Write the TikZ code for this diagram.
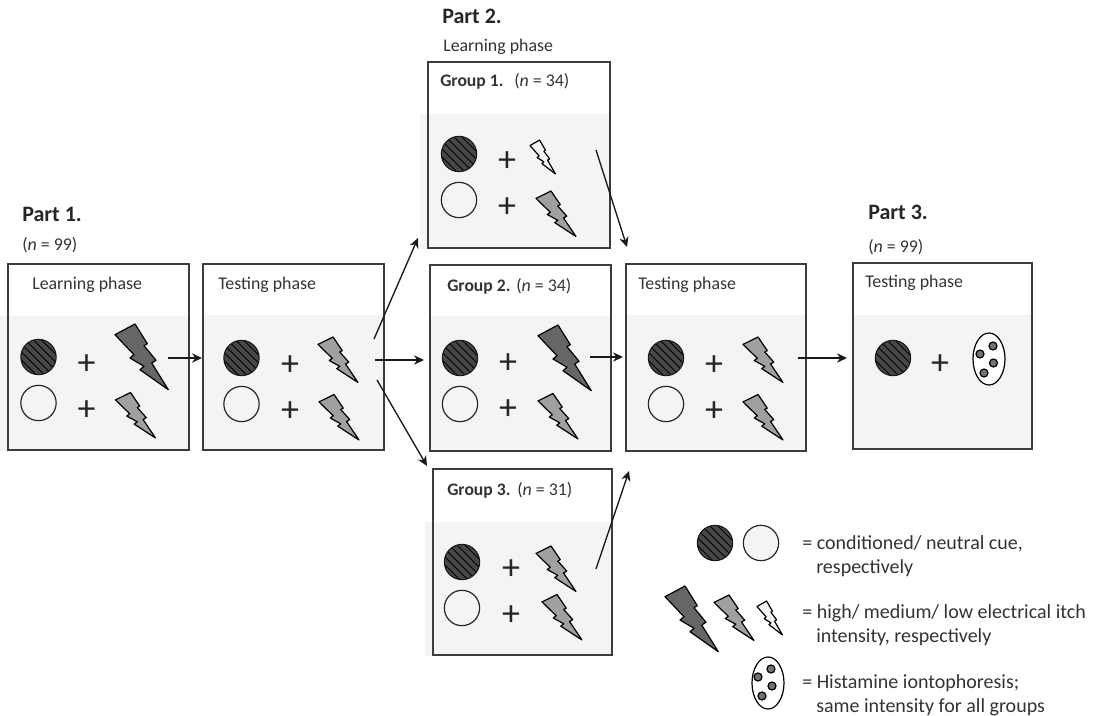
\documentclass[tikz,border=0pt]{standalone}
\usepackage{fontspec}
\setmainfont{Carlito}
\usetikzlibrary{arrows.meta,shapes.geometric}
\definecolor{band}{HTML}{F4F4F4}
\definecolor{boxline}{HTML}{3C3C3C}
\definecolor{txt}{HTML}{333333}
\definecolor{hi}{HTML}{666666}
\definecolor{med}{HTML}{A0A0A0}
\definecolor{lo}{HTML}{F2F2F2}
\tikzset{
  x=0.75pt,y=-0.75pt,
  panel/.style={draw=boxline,line width=1.3pt,inner sep=0,outer sep=0},
  darkcue/.style={circle,draw=black!90,line width=0.8pt,fill=black!72,minimum size=26.5pt,inner sep=0,outer sep=0,
    path picture={\foreach \s in {-60,-52,...,60}{\draw[black,line width=0.7pt] ([shift={(\s-40,-40)}]path picture bounding box.center) -- ([shift={(\s+40,40)}]path picture bounding box.center);}}},
  lightcue/.style={circle,draw=black!85,line width=0.9pt,fill=band,minimum size=26.5pt,inner sep=0,outer sep=0},
  plus/.style={font=\fontsize{27}{27}\selectfont,text=black!85,inner sep=0,yshift=-1pt},
  ph/.style={anchor=base west,inner sep=0,text=txt,yshift=-1pt,font=\fontsize{13.4}{15}\selectfont},
  small/.style={anchor=base west,inner sep=0,text=txt,yshift=-1pt,font=\fontsize{13.4}{15}\selectfont},
  part/.style={anchor=base west,inner sep=0,text=black!85,yshift=-1.8pt,font=\fontsize{16.5}{18}\selectfont\bfseries},
  grp/.style={anchor=base west,inner sep=0,text=txt,yshift=-1pt,font=\fontsize{13.2}{15}\selectfont\bfseries},
  leg/.style={anchor=base west,inner sep=0,text=txt,yshift=-1pt,font=\fontsize{15}{17}\selectfont},
  conn/.style={black!90,line width=1pt,-{Stealth[length=7.5pt,width=7pt]}},
  boltline/.style={draw=black,line width=0.9pt,line join=round},
  histo/.style={ellipse,draw=black,line width=0.9pt,fill=white,minimum width=24pt,minimum height=39pt,inner sep=0},
  dot/.style={circle,draw=black,line width=0.9pt,fill=black!55,minimum size=6pt,inner sep=0}
}
% band, then box: name, x1, y1, x2, y2, band top, band overhang left
\newcommand{\panelbox}[7]{%
  \fill[band] (#2-#7,#6) rectangle (#4,#5+1);
  \pgfmathsetmacro{\pw}{(#4-#2)*0.75}\pgfmathsetmacro{\phh}{(#5-#3)*0.75}%
  \node[panel,minimum width=\pw pt,minimum height=\phh pt] (#1) at ({(#2+#4)/2},{(#3+#5)/2}) {};}
\newcommand{\boltshape}[5]{%
  \draw[boltline,fill=#5,shift={(#1,#2)},xscale=#3/53.3,yscale=#4/65.7]
   (0,10.7)--(20,0)--(32.3,19.7)--(29,21.7)--(41,36.3)--(36.7,39)--(53.3,65.7)--(25,45.7)--(29,42.3)--(15,34)--(19,30.7)--cycle;}
\newcommand{\bigbolt}[2]{\boltshape{#1}{#2}{53.3}{65.7}{hi}}
\newcommand{\medbolt}[2]{\boltshape{#1}{#2}{40}{45.5}{med}}
\newcommand{\lowbolt}[2]{\boltshape{#1}{#2}{25.5}{34}{lo}}
\begin{document}
\begin{tikzpicture}
\useasboundingbox (0,0) rectangle (1100,716);
% panels
\panelbox{pa}{8}{264}{189}{450}{316}{8}
\panelbox{pb}{203}{264}{384}{450}{315}{0}
\panelbox{ga}{428}{62}{610}{248}{114}{8}
\panelbox{gb}{430}{265}{611}{451}{316}{0}
\panelbox{gc}{433}{469}{612}{655}{522}{8}
\panelbox{pc}{626}{264}{806}{451}{315}{0}
\panelbox{pd}{853}{263}{1032}{449}{315}{0}
% titles
\node[part] (t1) at (22,219) {Part 1.};
\node[small] (n1) at (22,249) {(\textit{n} = 99)};
\node[part] (t2) at (442,21) {Part 2.};
\node[small] (l2) at (443,50) {Learning phase};
\node[part] (t3) at (868,217) {Part 3.};
\node[small] (n3) at (868,251) {(\textit{n} = 99)};
\node[ph] (la) at (32,288) {Learning phase};
\node[ph] (lb) at (218,288) {Testing phase};
\node[ph] (lc) at (638,288) {Testing phase};
\node[ph] (ld) at (865,286) {Testing phase};
\node[grp] (g1) at (440,85) {Group 1.};
\node[small] (g1n) at (514,85) {(\textit{n} = 34)};
\node[grp] (g2) at (447,290) {Group 2.};
\node[small] (g2n) at (516,290) {(\textit{n} = 34)};
\node[grp] (g3) at (447,494) {Group 3.};
\node[small] (g3n) at (517,494) {(\textit{n} = 31)};
% part 1 learning
\node[darkcue] (a1) at (38.5,357) {}; \node[lightcue] (a2) at (38.5,403) {};
\node[plus] (ap1) at (86.5,363) {+}; \node[plus] (ap2) at (86.5,409) {+};
\bigbolt{115}{324}\medbolt{115.5}{392.5}
% part 1 testing
\node[darkcue] (b1) at (241.5,358) {}; \node[lightcue] (b2) at (241.5,404) {};
\node[plus] (bp1) at (290,364) {+}; \node[plus] (bp2) at (290,410) {+};
\medbolt{318}{337}\medbolt{319}{394.5}
% group 1
\node[darkcue] (c1) at (459,154) {}; \node[lightcue] (c2) at (459,200) {};
\node[plus] (cp1) at (507,160) {+}; \node[plus] (cp2) at (507,206) {+};
\lowbolt{530}{140}\medbolt{536}{191}
% group 2
\node[darkcue] (d1) at (460,358) {}; \node[lightcue] (d2) at (460,404) {};
\node[plus] (dp1) at (508,362.5) {+}; \node[plus] (dp2) at (508,408.5) {+};
\bigbolt{538}{325}\medbolt{538}{393.5}
% group 3
\node[darkcue] (e1) at (462,562) {}; \node[lightcue] (e2) at (462,608) {};
\node[plus] (ep1) at (511,568) {+}; \node[plus] (ep2) at (511,614) {+};
\medbolt{536}{546}\medbolt{542}{594.5}
% part 2 testing
\node[darkcue] (f1) at (666,358) {}; \node[lightcue] (f2) at (666,404) {};
\node[plus] (fp1) at (714,364) {+}; \node[plus] (fp2) at (714,410) {+};
\medbolt{743}{337}\medbolt{743}{394.5}
% part 3
\node[darkcue] (h1) at (893,358) {};
\node[plus] (hp1) at (940,363) {+};
\node[histo] (hh) at (989,359) {};
\node[dot] (hd1) at (980,354) {}; \node[dot] (hd2) at (993,346) {}; \node[dot] (hd3) at (993.5,363) {}; \node[dot] (hd4) at (984,373) {};
% connectors
\coordinate (s1) at (168,358); \coordinate (e1x) at (202,358);
\coordinate (s2) at (374,339); \coordinate (e2x) at (418,238);
\coordinate (s3) at (375,360); \coordinate (e3x) at (424,360);
\coordinate (s4) at (377,380); \coordinate (e4x) at (427,466);
\coordinate (s5) at (596,150); \coordinate (e5x) at (627,247);
\coordinate (s6) at (590,357); \coordinate (e6x) at (623,357);
\coordinate (s7) at (596,569); \coordinate (e7x) at (629,471);
\coordinate (s8) at (798,358); \coordinate (e8x) at (847,358);
\foreach \i in {1,...,8}{\draw[conn] (s\i) -- (e\i x);}
% legend
\node[darkcue] (k1) at (715,543) {}; \node[lightcue] (k2) at (761,543) {};
\bigbolt{665}{586}\medbolt{714}{595}\lowbolt{757}{601}
\node[histo] (kh) at (768,683) {};
\node[dot] (kd1) at (758,677) {}; \node[dot] (kd2) at (771,669) {}; \node[dot] (kd3) at (772,686) {}; \node[dot] (kd4) at (762,696) {};
\node[leg] (k3) at (802,548) {= conditioned/ neutral cue,};
\node[leg] (k4) at (816,572) {respectively};
\node[leg] (k5) at (802,617) {= high/ medium/ low electrical itch};
\node[leg] (k6) at (816,641) {intensity, respectively};
\node[leg] (k7) at (802,687) {= Histamine iontophoresis;};
\node[leg] (k8) at (816,711) {same intensity for all groups};
\end{tikzpicture}
\end{document}
